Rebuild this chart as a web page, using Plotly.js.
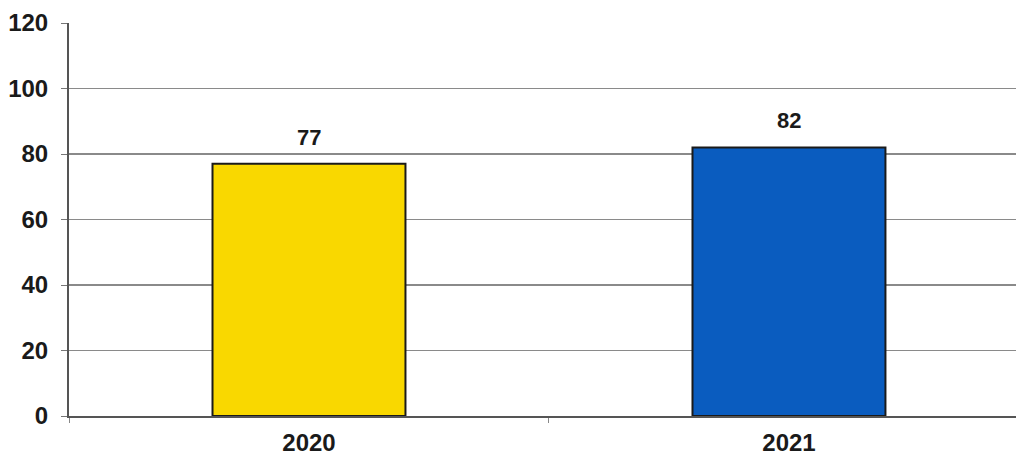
<!DOCTYPE html>
<html>
<head>
<meta charset="utf-8">
<script src="https://cdn.plot.ly/plotly-3.0.1.min.js"></script>
<style>html,body{margin:0;padding:0;background:#fff;}#chart{width:1016px;height:455px;}</style>
</head>
<body>
<div id="chart"></div>
<script>
const categories = ["2020", "2021"];
const values = [77, 82];
const barColors = ["#F9D800", "#0A5CBF"];
const yTicks = [0, 20, 40, 60, 80, 100, 120];

const FONT = "Liberation Sans, Arial, sans-serif";

const trace = {
  type: "bar",
  x: categories,
  y: values,
  width: 0.402,
  marker: { color: barColors, line: { color: "#1a1a1a", width: 2 } },
  hoverinfo: "none"
};

const annotations = categories.map((c, i) => ({
  x: i, y: values[i], xref: "x", yref: "y",
  text: String(values[i]), showarrow: false,
  yanchor: "bottom", yshift: 12,
  font: { family: FONT, size: 22, color: "#1a1a1a", weight: "bold" }
}));

const layout = {
  width: 1016, height: 455,
  margin: { l: 69, r: 0, t: 23, b: 39 },
  paper_bgcolor: "#ffffff", plot_bgcolor: "#ffffff",
  showlegend: false,
  xaxis: {
    type: "category",
    range: [-0.5, 1.473],
    showline: true, linecolor: "#555", linewidth: 2,
    ticks: "outside", tickson: "boundaries", ticklen: 5, tickcolor: "#888", tickwidth: 1,
    ticklabelstandoff: 4,
    showgrid: false,
    tickfont: { family: FONT, size: 24, color: "#1a1a1a", weight: "bold" }
  },
  yaxis: {
    range: [0, 120],
    tickvals: yTicks,
    ticktext: yTicks.map(String),
    showline: true, linecolor: "#555", linewidth: 2,
    ticks: "outside", ticklen: 6, tickcolor: "#777", tickwidth: 1,
    ticklabelstandoff: 8,
    showgrid: true, gridcolor: "#8a8a8a", gridwidth: 1.5,
    zeroline: false,
    tickfont: { family: FONT, size: 24, color: "#1a1a1a", weight: "bold" }
  },
  annotations: annotations
};

Plotly.newPlot("chart", [trace], layout, { displayModeBar: false, staticPlot: true });
</script>
</body>
</html>
